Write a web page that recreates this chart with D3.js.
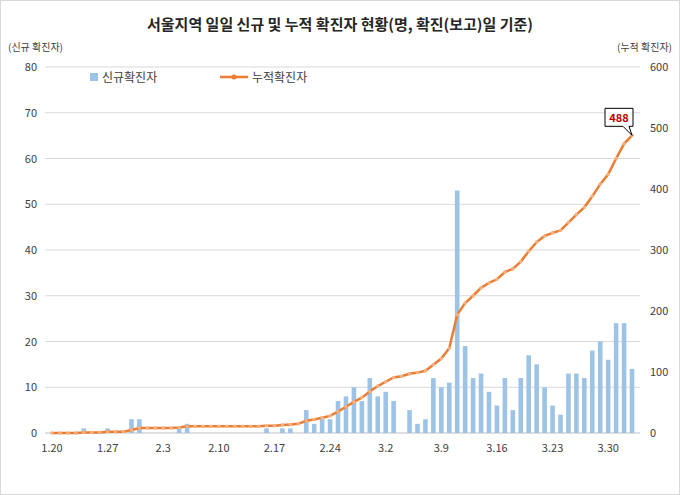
<!DOCTYPE html><html><head><meta charset="utf-8"><script src="https://cdn.jsdelivr.net/npm/d3@7"></script>
<style>body{margin:0;background:#fff}text{font-family:"Noto Sans CJK KR","Noto Sans",sans-serif}</style></head><body>
<svg id="c" width="680" height="495"></svg>
<script>
const dates=["1.20","1.21","1.22","1.23","1.24","1.25","1.26","1.27","1.28","1.29","1.30","1.31",
"2.1","2.2","2.3","2.4","2.5","2.6","2.7","2.8","2.9","2.10","2.11","2.12","2.13","2.14","2.15","2.16","2.17","2.18","2.19","2.20","2.21","2.22","2.23","2.24","2.25","2.26","2.27","2.28","2.29",
"3.1","3.2","3.3","3.4","3.5","3.6","3.7","3.8","3.9","3.10","3.11","3.12","3.13","3.14","3.15","3.16","3.17","3.18","3.19","3.20","3.21","3.22","3.23","3.24","3.25","3.26","3.27","3.28","3.29","3.30","3.31","4.1","4.2"];
const daily=[0,0,0,0,1,0,0,1,0,0,3,3, 0,0,0,0,1,2,0,0,0,0,0,0,0,0,0,1,0,1,1,0,5,2,3,3,7,8,10,7,12,
8,9,7,0,5,2,3,12,10,11,53,19,12,13,9,6,12,5,12,17,15,10,6,4,13,13,12,18,20,16,24,24,14];
const cumulative=[0,0,0,0,1,1,1,2,2,2,5,8, 8,8,8,8,9,11,11,11,11,11,11,11,11,11,11,12,12,13,14,15,20,22,25,28,35,43,51,58,68,
77,84,91,93,97,99,102,112,122,139,194,213,225,238,246,252,264,269,281,298,313,323,328,332,345,358,370,388,408,424,450,474,488];
const tickDates=["1.20","1.27","2.3","2.10","2.17","2.24","3.2","3.9","3.16","3.23","3.30"];
const leftTicks=[0,10,20,30,40,50,60,70,80], rightTicks=[0,100,200,300,400,500,600];
const svg=d3.select("#c");
svg.append("rect").attr("x",0.5).attr("y",0.5).attr("width",679).attr("height",494).attr("fill","#fff").attr("stroke","#d9d9d9");
const x=d3.scalePoint().domain(dates).range([52,632]);
const yL=d3.scaleLinear().domain([0,80]).range([433,67]);
const yR=d3.scaleLinear().domain([0,600]).range([433,67]);
const g=svg.append("g");
leftTicks.forEach(t=>{g.append("line").attr("x1",45).attr("x2",640).attr("y1",yL(t)).attr("y2",yL(t)).attr("stroke",t?"#d9d9d9":"#bfbfbf");
 g.append("text").attr("x",37).attr("y",yL(t)+4).attr("text-anchor","end").attr("font-size",11).attr("fill","#404040").text(t);});
rightTicks.forEach(t=>g.append("text").attr("x",650).attr("y",yR(t)+4).attr("font-size",11).attr("fill","#404040").text(t));
tickDates.forEach(d=>g.append("text").attr("x",x(d)).attr("y",452).attr("text-anchor","middle").attr("font-size",11).attr("fill","#404040").text(d));
g.selectAll(".b").data(dates).join("rect").attr("x",d=>x(d)-2.3).attr("width",4.6).attr("y",(d,i)=>yL(daily[i])).attr("height",(d,i)=>433-yL(daily[i])).attr("fill","#9dc3e6");
const line=d3.line().x((d,i)=>x(dates[i])).y(d=>yR(d));
g.append("path").attr("d",line(cumulative)).attr("fill","none").attr("stroke","#ed7d31").attr("stroke-width",2.5);
g.selectAll(".m").data(cumulative).join("circle").attr("cx",(d,i)=>x(dates[i])).attr("cy",d=>yR(d)).attr("r",1.8).attr("fill","#f4b183");
svg.append("text").attr("x",340).attr("y",30).attr("text-anchor","middle").attr("font-size",15).attr("font-weight","bold").attr("fill","#262626").text("서울지역 일일 신규 및 누적 확진자 현황(명, 확진(보고)일 기준)");
svg.append("text").attr("x",8).attr("y",51).attr("font-size",10).attr("fill","#404040").text("(신규 확진자)");
svg.append("text").attr("x",672).attr("y",51).attr("text-anchor","end").attr("font-size",10).attr("fill","#404040").text("(누적 확진자)");
svg.append("rect").attr("x",90).attr("y",73).attr("width",8).attr("height",8).attr("fill","#9dc3e6");
svg.append("text").attr("x",102).attr("y",82).attr("font-size",12).attr("fill","#404040").text("신규확진자");
svg.append("line").attr("x1",220).attr("x2",248).attr("y1",77).attr("y2",77).attr("stroke","#ed7d31").attr("stroke-width",2.5);
svg.append("circle").attr("cx",234).attr("cy",77).attr("r",2.5).attr("fill","#ed7d31");
svg.append("text").attr("x",252).attr("y",82).attr("font-size",12).attr("fill","#404040").text("누적확진자");
const lx=x(dates[dates.length-1]), ly=yR(cumulative[cumulative.length-1]);
svg.append("path").attr("d",`M${lx-27},${ly-27}h28v18h-4l3,9l-9,-9h-18z`).attr("fill","#fff").attr("stroke","#000").attr("stroke-width",1);
svg.append("text").attr("x",lx-13).attr("y",ly-13).attr("text-anchor","middle").attr("font-size",11).attr("font-weight","bold").attr("fill","#c00000").text(cumulative[cumulative.length-1]);
</script></body></html>
